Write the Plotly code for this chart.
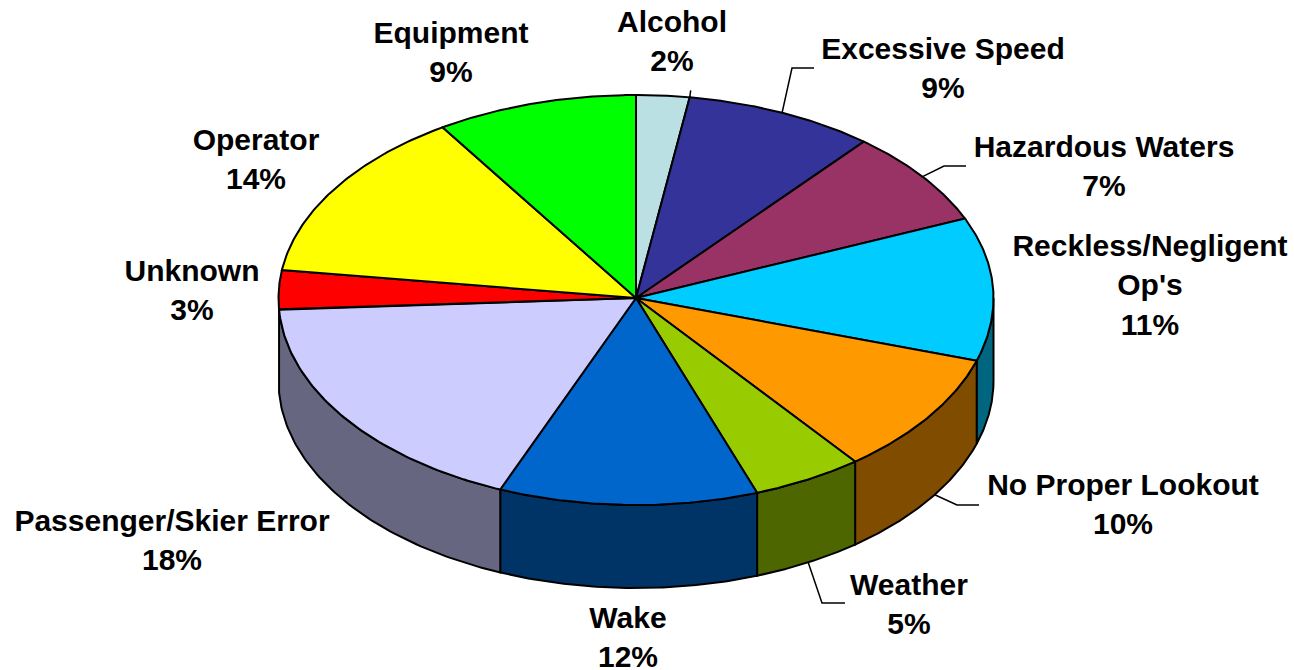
import numpy as np
import plotly.graph_objects as go

# Data
categories = ["Alcohol", "Excessive Speed", "Hazardous Waters", "Reckless/Negligent<br>Op's",
              "No Proper Lookout", "Weather", "Wake", "Passenger/Skier Error",
              "Unknown", "Operator", "Equipment"]
slice_shares = [2.4, 8.6, 7.6, 11.3, 9.6, 5.0, 11.7, 17.9, 3.1, 13.7, 9.1]
percent_labels = ["2%", "9%", "7%", "11%", "10%", "5%", "12%", "18%", "3%", "14%", "9%"]

# Styling
top_colors = ["#BBE0E3", "#333399", "#993366", "#00CCFF", "#FF9900", "#99CC00",
              "#0066CC", "#CCCCFF", "#FF0000", "#FFFF00", "#00FF00"]
wall_colors = [None, None, None, "#006680", "#804D00", "#4D6600", "#003366", "#666680",
               None, None, None]
label_anchor = [(672, 24), (943, 51), (1104, 149), (1150, 248), (1123, 487), (909, 587),
                (628, 620), (172, 523), (192, 273), (256, 142), (451, 35)]
leader_offsets = {1: [(792, 68), (814, 68)], 2: [(944, 166), (966, 166)],
                  4: [(957, 505), (979, 505)], 5: [(822, 603), (845, 603)]}
leader_shift_deg = {1: 0, 2: 0, 4: -1.6, 5: 0}
LINE_PITCH = 39.5
FONT_PX = 30

# Geometry of the tilted pie
CX, CY, RX, RY_BACK, RY_FRONT, DEPTH = 636, 298, 357.5, 203, 207, 83


def rim(t_deg):
    t = np.radians(np.asarray(t_deg, dtype=float))
    c = np.cos(t)
    return CX + RX * np.sin(t), CY - np.where(c >= 0, RY_BACK, RY_FRONT) * c


edges = np.concatenate([[0], np.cumsum(slice_shares)]) / sum(slice_shares) * 360
fig = go.Figure()


def poly(xs, ys, color):
    fig.add_trace(go.Scatter(x=xs, y=ys, mode="lines", fill="toself", fillcolor=color,
                             line=dict(color="black", width=2), hoverinfo="skip",
                             showlegend=False))


# Side walls
for i, col in enumerate(wall_colors):
    if col is None:
        continue
    a, b = max(edges[i], 90), min(edges[i + 1], 270)
    ts = np.linspace(a, b, 80)
    x, y = rim(ts)
    poly(np.r_[x, x[::-1], x[0]], np.r_[y, y[::-1] + DEPTH, y[0]], col)

# Top faces
for i, col in enumerate(top_colors):
    ts = np.linspace(edges[i], edges[i + 1], 80)
    x, y = rim(ts)
    poly(np.r_[CX, x, CX], np.r_[CY, y, CY], col)

# Leader lines
for i, elbow in leader_offsets.items():
    mid = (edges[i] + edges[i + 1]) / 2 + leader_shift_deg[i]
    sx, sy = rim(mid)
    if 90 < mid < 270:
        sy = sy + DEPTH
    fig.add_trace(go.Scatter(x=[float(sx)] + [p[0] for p in elbow],
                             y=[float(sy)] + [p[1] for p in elbow], mode="lines",
                             line=dict(color="black", width=1.5), hoverinfo="skip",
                             showlegend=False))
ax, ay = rim(edges[1])
fig.add_trace(go.Scatter(x=[float(ax), float(ax) + 1], y=[float(ay), float(ay) - 7], mode="lines",
                         line=dict(color="black", width=1.5), hoverinfo="skip", showlegend=False))

# Labels, one text per line
tx, ty, tt = [], [], []
for name, pct, (lx, ly) in zip(categories, percent_labels, label_anchor):
    for k, line in enumerate(name.split("<br>") + [pct]):
        tx.append(lx)
        ty.append(ly + k * LINE_PITCH)
        tt.append(line)
fig.add_trace(go.Scatter(x=tx, y=ty, text=tt, mode="text", textposition="middle center",
                         textfont=dict(family="Liberation Sans", size=FONT_PX, color="black",
                                       weight="bold"),
                         hoverinfo="skip", showlegend=False, cliponaxis=False))

fig.update_layout(width=1294, height=670, margin=dict(l=0, r=0, t=0, b=0),
                  paper_bgcolor="white", plot_bgcolor="white", showlegend=False,
                  xaxis=dict(range=[0, 1294], visible=False, fixedrange=True),
                  yaxis=dict(range=[670, 0], visible=False, fixedrange=True))
fig.write_html("out.html", config={"displayModeBar": False},
               post_script="document.body.style.margin='0';document.body.style.overflow='hidden';")
